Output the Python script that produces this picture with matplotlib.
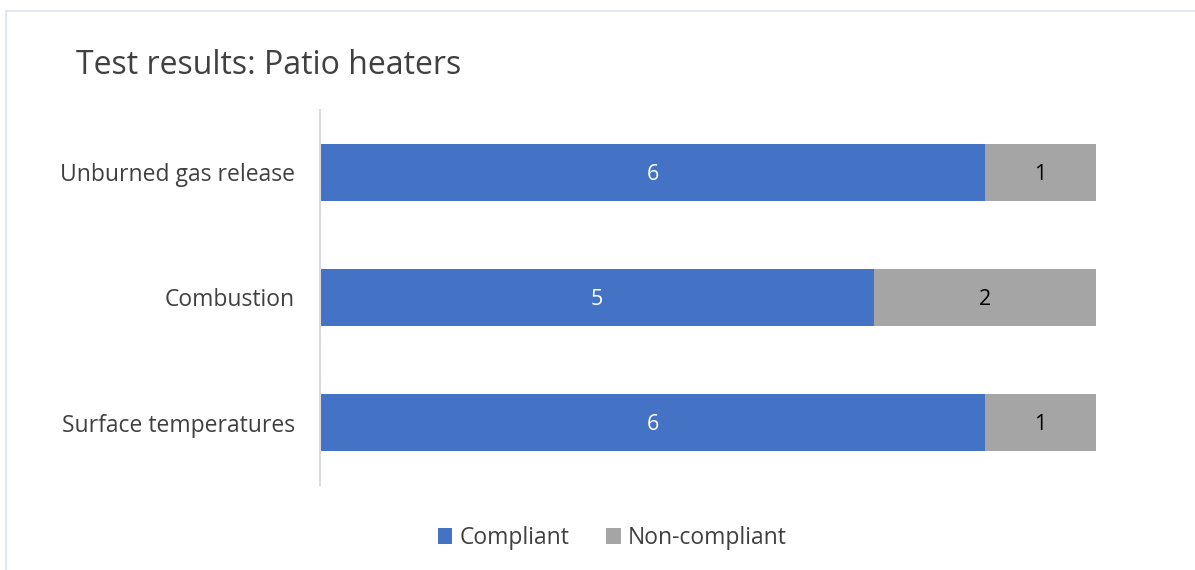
import matplotlib
matplotlib.use("Agg")
import matplotlib.pyplot as plt
from matplotlib.patches import Rectangle

categories = ["Surface temperatures", "Combustion", "Unburned gas release"]
compliant = [6, 5, 6]
non_compliant = [1, 2, 1]
series_names = ["Compliant", "Non-compliant"]
colors = ["#4472C4", "#A5A5A5"]

plt.rcParams['font.family'] = ['Open Sans', 'DejaVu Sans']
W, H = 1195, 570
fig = plt.figure(figsize=(W/100, H/100), dpi=100)
ax = fig.add_axes([320/W, 1-485/H, (1096-320)/W, (485-110)/H])

y = range(len(categories))
b1 = ax.barh(y, compliant, height=0.45, color=colors[0], label=series_names[0])
b2 = ax.barh(y, non_compliant, left=compliant, height=0.45, color=colors[1], label=series_names[1])
for t in ax.bar_label(b1, label_type='center', color='white', fontsize=15.5):
    t.set_va('center_baseline')
for t in ax.bar_label(b2, label_type='center', color='black', fontsize=15.5):
    t.set_va('center_baseline')

ax.set_xlim(0, 7)
ax.set_ylim(-0.5, 2.5)
ax.set_yticks(list(y))
ax.set_yticklabels(categories, fontsize=16.5, color='#404040')
ax.tick_params(axis='y', length=0, pad=18)
ax.set_xticks([])
for s in ['top', 'right', 'bottom']:
    ax.spines[s].set_visible(False)
ax.spines['left'].set_color('#D9D9D9')
ax.spines['left'].set_linewidth(1.5)

fig.text(76/W, 1-65/H, "Test results: Patio heaters", fontsize=23, color='#404040', va='center', ha='left')

leg = fig.legend(handles=[b1, b2], labels=series_names, loc='center', bbox_to_anchor=(612/W, 1-538/H),
                 ncol=2, frameon=False, fontsize=16.5, handlelength=0.65, handleheight=0.65,
                 handletextpad=0.3, columnspacing=1.6, labelcolor='#404040')

fig.patches.append(Rectangle((6/W, -0.1), 1.2, 1-11/H+0.1, transform=fig.transFigure,
                             fill=False, edgecolor='#DCE6F0', linewidth=1.2))
fig.savefig("out.png", dpi=100)
